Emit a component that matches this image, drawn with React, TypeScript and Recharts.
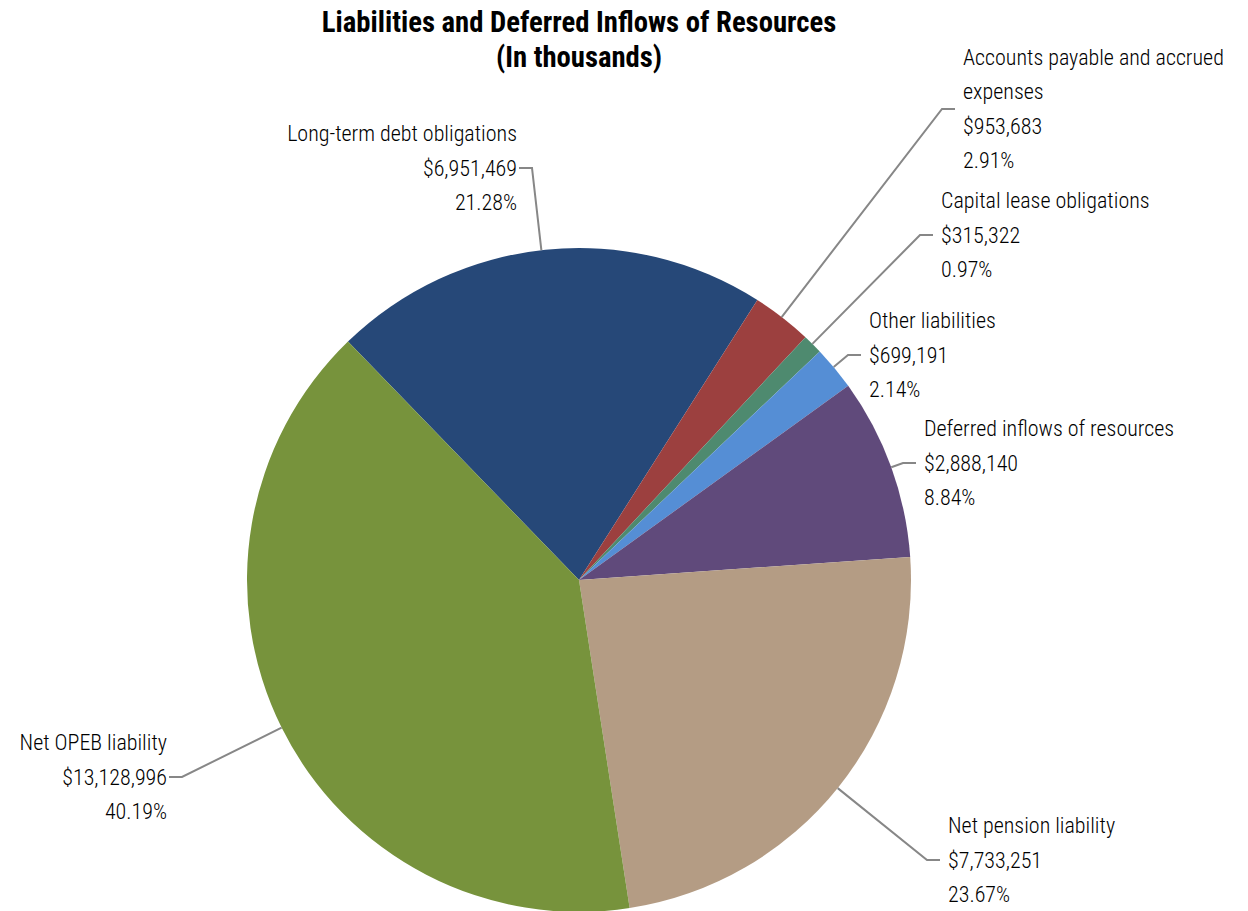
import React from "react";
import { PieChart, Pie, Cell } from "recharts";

const categories: string[] = [
  "Long-term debt obligations",
  "Accounts payable and accrued expenses",
  "Capital lease obligations",
  "Other liabilities",
  "Deferred inflows of resources",
  "Net pension liability",
  "Net OPEB liability",
];
const values: number[] = [6951469, 953683, 315322, 699191, 2888140, 7733251, 13128996];
const percentLabels: string[] = ["21.28%", "2.91%", "0.97%", "2.14%", "8.84%", "23.67%", "40.19%"];
const nameLines: string[][] = [
  ["Long-term debt obligations"],
  ["Accounts payable and accrued", "expenses"],
  ["Capital lease obligations"],
  ["Other liabilities"],
  ["Deferred inflows of resources"],
  ["Net pension liability"],
  ["Net OPEB liability"],
];

const colors = ["#264878", "#9C403F", "#4E8A6F", "#558ED5", "#604A7B", "#B49C84", "#77933C"];

// label layout: elbow offset from pie centre, side of text
const labelLayout = [
  { ex: -47, ey: -412, side: "left" },
  { ex: 363, ey: -471, side: "right" },
  { ex: 341, ey: -345, side: "right" },
  { ex: 269, ey: -225, side: "right" },
  { ex: 324, ey: -117, side: "right" },
  { ex: 348, ey: 280, side: "right" },
  { ex: -397, ey: 197, side: "left" },
];

const data = categories.map((name, i) => ({ name, value: values[i] }));

const FONT = "'Liberation Sans Narrow', 'Arial Narrow', 'Roboto Condensed', sans-serif";
const LINE_H = 34.5;
const RAD = Math.PI / 180;

const renderLabel = (props: any) => {
  const { cx, cy, outerRadius, index, startAngle, endAngle } = props;
  const lay = labelLayout[index];
  const exX = cx + lay.ex;
  const exY = cy + lay.ey;
  let a = Math.atan2(-lay.ey, lay.ex) / RAD;
  const lo = Math.min(startAngle, endAngle);
  const hi = Math.max(startAngle, endAngle);
  const cands = [a, a - 360, a + 360, a - 720, a + 720];
  let found = cands.find((c) => c >= lo && c <= hi);
  if (found === undefined) {
    const mid = (lo + hi) / 2;
    let best = cands[0];
    for (const c of cands) if (Math.abs(c - mid) < Math.abs(best - mid)) best = c;
    found = Math.max(lo, Math.min(hi, best));
  }
  const sx = cx + outerRadius * Math.cos(-found * RAD);
  const sy = cy + outerRadius * Math.sin(-found * RAD);
  const dir = lay.side === "right" ? 1 : -1;
  const hx = exX + dir * 13;
  const tx = hx + dir * (dir === 1 ? 8 : 2);
  const lines = [
    ...nameLines[index],
    "$" + values[index].toLocaleString("en-US"),
    percentLabels[index],
  ];
  const n = lines.length;
  const y0 = exY - ((n - 1) * LINE_H) / 2;
  return (
    <g key={`lbl-${index}`}>
      <polyline
        points={`${sx},${sy} ${exX},${exY} ${hx},${exY}`}
        fill="none"
        stroke="#878787"
        strokeWidth={2}
      />
      {lines.map((t, k) => (
        <text
          key={k}
          x={tx}
          y={y0 + k * LINE_H}
          textAnchor={dir === 1 ? "start" : "end"}
          dominantBaseline="central"
          fontFamily={FONT}
          fontWeight={300}
          fontSize={22}
          fill="#000"
        >
          {t}
        </text>
      ))}
    </g>
  );
};

export default function App() {
  return (
    <div style={{ position: "absolute", left: 0, top: 0, width: 1248, height: 911, background: "#fff" }}>
      <PieChart width={1248} height={911} margin={{ top: 0, right: 0, bottom: 0, left: 0 }}>
        <text x={579} y={22} textAnchor="middle" dominantBaseline="central" fontFamily={FONT} fontWeight="bold" fontSize={28.7} fill="#000">
          Liabilities and Deferred Inflows of Resources
        </text>
        <text x={579} y={57} textAnchor="middle" dominantBaseline="central" fontFamily={FONT} fontWeight="bold" fontSize={28.7} fill="#000">
          (In thousands)
        </text>
        <Pie
          data={data}
          dataKey="value"
          nameKey="name"
          cx={579}
          cy={580}
          outerRadius={332}
          startAngle={134.1}
          endAngle={-225.9}
          stroke="none"
          label={renderLabel}
          labelLine={false}
          isAnimationActive={false}
        >
          {data.map((d, i) => (
            <Cell key={d.name} fill={colors[i]} />
          ))}
        </Pie>
      </PieChart>
    </div>
  );
}
